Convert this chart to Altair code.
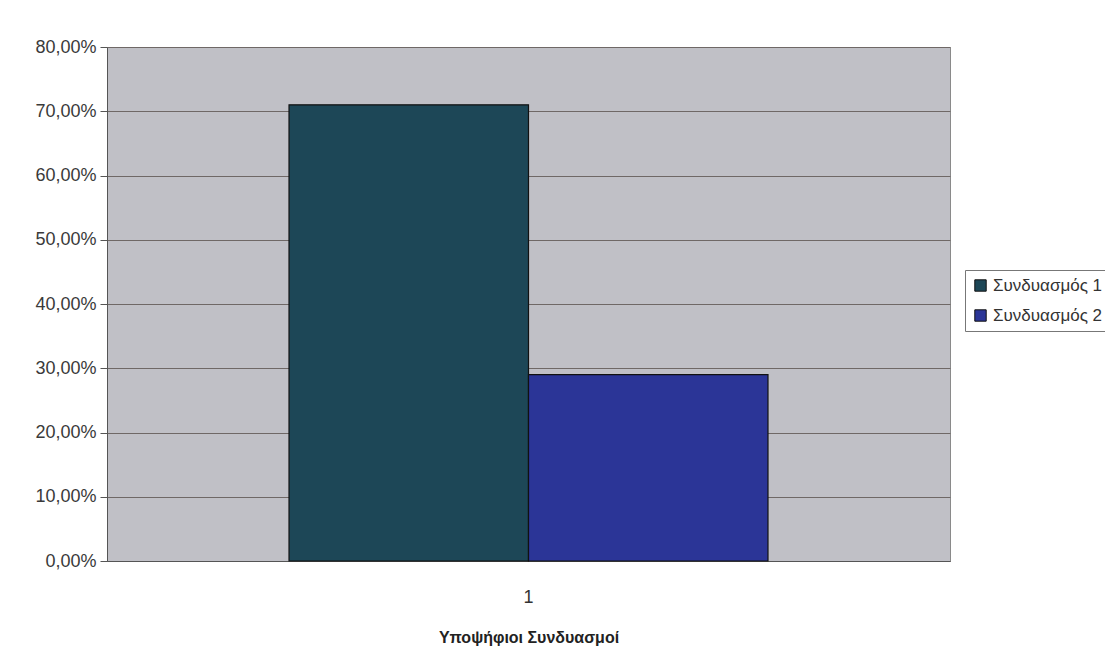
import altair as alt
import pandas as pd

categories = ["1", "1"]
series = ["Συνδυασμός 1", "Συνδυασμός 2"]
values = [0.71, 0.29]
colors = ["#1d4757", "#2b3597"]

df = pd.DataFrame({"cat": categories, "series": series, "value": values})

chart = alt.Chart(df).mark_bar(stroke="#111111", strokeWidth=1.2).encode(
    x=alt.X("cat:N", title="Υποψήφιοι Συνδυασμοί",
            scale=alt.Scale(paddingInner=0, paddingOuter=0.38),
            axis=alt.Axis(labelAngle=0, ticks=False, labelPadding=27,
                          titlePadding=23, titleFontWeight="bold",
                          titleFontSize=16, labelFontSize=18,
                          labelColor="#333333", titleColor="#222222",
                          domainColor="#555555", grid=False)),
    xOffset=alt.XOffset("series:N", scale=alt.Scale(paddingInner=0, paddingOuter=0)),
    y=alt.Y("value:Q", title=None,
            scale=alt.Scale(domain=[0, 0.8], nice=False),
            axis=alt.Axis(values=[0, 0.1, 0.2, 0.3, 0.4, 0.5, 0.6, 0.7, 0.8],
                          labelExpr="replace(format(datum.value, '.2%'), '.', ',')",
                          labelFontSize=18, labelColor="#3a3a3a",
                          tickColor="#555555", tickSize=7, labelPadding=4,
                          domainColor="#555555", gridColor="#6f6866",
                          gridWidth=1)),
    color=alt.Color("series:N", title=None,
                    scale=alt.Scale(domain=series, range=colors),
                    legend=alt.Legend(orient="none", legendX=858, legendY=223,
                                      symbolType="square", symbolSize=130,
                                      symbolStrokeColor="#111111",
                                      symbolStrokeWidth=1,
                                      labelFontSize=17, labelColor="#333333",
                                      labelOffset=4,
                                      strokeColor="#777777", fillColor="white",
                                      padding=7, rowPadding=12,
                                      labelLimit=300)),
).properties(
    width=843, height=514,
    padding={"left": 99, "top": 39, "right": 155, "bottom": 98},
    autosize=alt.AutoSizeParams(type="none"),
).configure(
    font="Liberation Sans",
).configure_view(
    fill="#c0c0c6", stroke="#8a8a8a", strokeWidth=1,
).configure_axis(
    labelFont="Liberation Sans", titleFont="Liberation Sans",
)

chart.save("out.html", embed_options={"renderer": "svg", "actions": False})
